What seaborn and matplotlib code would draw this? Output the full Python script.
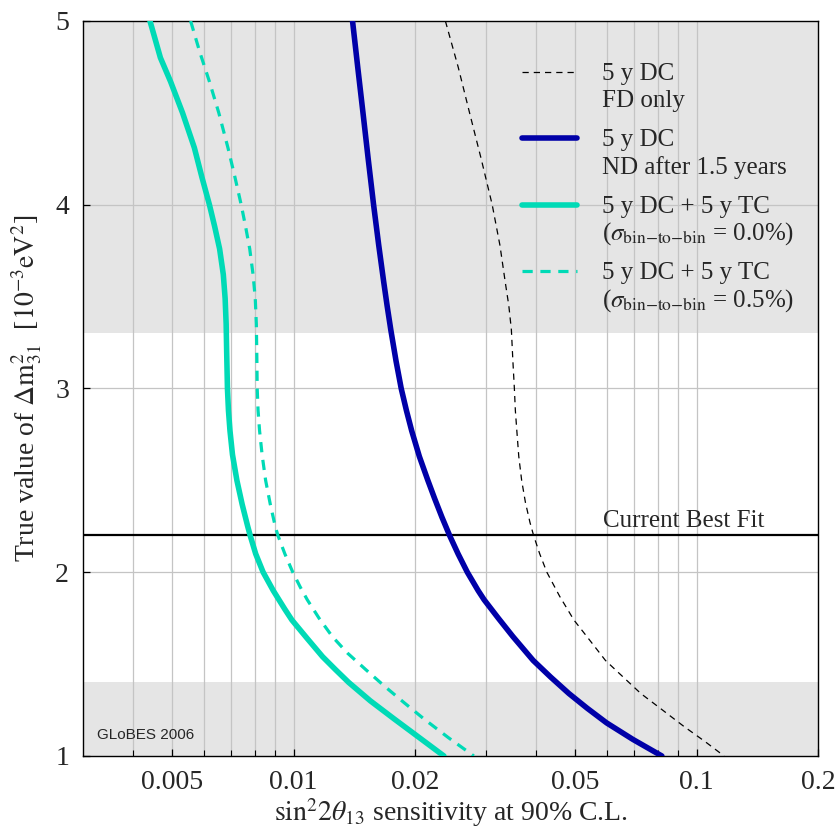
import matplotlib
matplotlib.use("Agg")
import matplotlib.pyplot as plt
from matplotlib.lines import Line2D
import seaborn as sns
import pandas as pd

# sensitivity curves (y = true dm31^2 in 1e-3 eV^2)
fd_y = [5.0, 4.75, 4.49, 4.25, 4.0, 3.78, 3.58, 3.45, 3.32, 3.15, 3.0, 2.88, 2.77, 2.63,
        2.5, 2.38, 2.27, 2.2, 2.1, 2.0, 1.87, 1.74, 1.63, 1.52, 1.43, 1.34, 1.25, 1.16,
        1.08, 1.0]
fd_x = [0.0238, 0.0256, 0.0274, 0.0292, 0.0311, 0.0325, 0.0335, 0.0342, 0.0347, 0.0350,
        0.0353, 0.0355, 0.0358, 0.0362, 0.0368, 0.0376, 0.0386, 0.0394, 0.0408, 0.0425,
        0.0457, 0.0496, 0.0543, 0.0594, 0.0657, 0.0727, 0.0823, 0.0931, 0.1047, 0.117]

nd_y = [5.0, 4.75, 4.49, 4.25, 4.0, 3.78, 3.58, 3.45, 3.32, 3.15, 3.0, 2.88, 2.77, 2.63,
        2.5, 2.4, 2.3, 2.2, 2.1, 2.0, 1.9, 1.85, 1.75, 1.65, 1.52, 1.43, 1.34, 1.26, 1.18,
        1.09, 1.0]
nd_x = [0.0140, 0.01442, 0.01488, 0.01531, 0.01579, 0.01626, 0.01673, 0.01706, 0.01742,
        0.01795, 0.01849, 0.01905, 0.01963, 0.02051, 0.02153, 0.02239, 0.02333, 0.02438,
        0.02559, 0.02698, 0.0287, 0.0297, 0.0322, 0.0350, 0.0393, 0.0434, 0.0482, 0.0535,
        0.0598, 0.0695, 0.0820]

tc0_y = [5.0, 4.8, 4.67, 4.5, 4.31, 4.15, 4.0, 3.88, 3.76, 3.62, 3.49, 3.35, 3.2, 3.0,
         2.88, 2.77, 2.64, 2.5, 2.37, 2.25, 2.2, 2.1, 2.0, 1.9, 1.8, 1.74, 1.64, 1.54, 1.47,
         1.40, 1.3, 1.2, 1.1, 1.0]
tc0_x = [0.0044, 0.00467, 0.00495, 0.00530, 0.00567, 0.00592, 0.00618, 0.00637, 0.00655,
         0.00669, 0.00676, 0.0068, 0.00682, 0.00685, 0.00689, 0.00695, 0.00705, 0.00723,
         0.00745, 0.00769, 0.0078, 0.00805, 0.0084, 0.0089, 0.0095, 0.0099, 0.0108,
         0.0118, 0.0127, 0.0137, 0.0155, 0.0178, 0.0205, 0.0236]

tc05_y = [5.0, 4.83, 4.67, 4.5, 4.31, 4.15, 4.0, 3.88, 3.76, 3.62, 3.49, 3.35, 3.2, 3.0,
          2.88, 2.77, 2.64, 2.5, 2.37, 2.25, 2.2, 2.1, 2.0, 1.92, 1.85, 1.75, 1.65, 1.56,
          1.47, 1.38, 1.29, 1.2, 1.1, 1.0]
tc05_x = [0.00555, 0.00585, 0.00618, 0.00652, 0.00687, 0.00715, 0.00741, 0.0076, 0.00778,
          0.00793, 0.00803, 0.00808, 0.0081, 0.00812, 0.00816, 0.00823, 0.00835, 0.00852,
          0.00875, 0.0090, 0.00914, 0.00951, 0.00995, 0.01038, 0.01081, 0.01156, 0.01247,
          0.0136, 0.0151, 0.0168, 0.0188, 0.0211, 0.0242, 0.0280]

best_fit = 2.2
bands = [(1.0, 1.4), (3.3, 5.0)]
xticks = [0.005, 0.01, 0.02, 0.05, 0.1, 0.2]
xtick_labels = ["0.005", "0.01", "0.02", "0.05", "0.1", "0.2"]
xgrid = [0.004, 0.005, 0.006, 0.007, 0.008, 0.009, 0.01, 0.02, 0.03, 0.04, 0.05,
         0.06, 0.07, 0.08, 0.09, 0.1]
yticks = [1, 2, 3, 4, 5]

legend_lines = [("5 y DC", "FD only"),
                ("5 y DC", "ND after 1.5 years"),
                ("5 y DC + 5 y TC", r"($\sigma_{\mathrm{bin{-}to{-}bin}}$ = 0.0%)"),
                ("5 y DC + 5 y TC", r"($\sigma_{\mathrm{bin{-}to{-}bin}}$ = 0.5%)")]

teal = "#00dab6"
navy = "#0000a8"

sns.set_theme(style="white")
plt.rcParams["font.family"] = ["Liberation Serif", "DejaVu Serif"]
plt.rcParams["mathtext.fontset"] = "stix"

fig = plt.figure(figsize=(8.38, 8.30), dpi=100)
ax = fig.add_axes([0.099, 0.0892, 0.877, 0.8855])
ax.set_xscale("log")

for lo, hi in bands:
    ax.axhspan(lo, hi, color="#e5e5e5", zorder=0, lw=0)
for gx in xgrid:
    ax.axvline(gx, color="#c4c4c4", lw=0.9, zorder=0.5)
for gy in yticks[1:-1]:
    ax.axhline(gy, color="#c4c4c4", lw=0.9, zorder=0.5)

styles = [
    (fd_x, fd_y, "black", 0.9, (0, (5, 4))),
    (nd_x, nd_y, navy, 4.0, "-"),
    (tc0_x, tc0_y, teal, 4.0, "-"),
    (tc05_x, tc05_y, teal, 2.3, (0, (3.2, 2.4))),
]
for xs, ys, col, lw, ls in styles:
    df = pd.DataFrame({"x": xs, "y": ys})
    sns.lineplot(data=df, x="x", y="y", sort=False, estimator=None, ax=ax,
                 color=col, lw=lw, linestyle=ls, zorder=3)

ax.axhline(best_fit, color="black", lw=1.6, zorder=2.5)
ax.text(0.0585, best_fit + 0.045, "Current Best Fit", fontsize=18, va="baseline", ha="left")

# legend, drawn by hand so the key sits on the first text line
for i, (l1, l2) in enumerate(legend_lines):
    yc = 0.931 - i * 0.0905
    col, lw, ls = styles[i][2], styles[i][3], styles[i][4]
    ax.add_line(Line2D([0.598, 0.672], [yc, yc], transform=ax.transAxes, color=col,
                       lw=lw, linestyle=ls, solid_capstyle="round", zorder=4))
    ax.text(0.706, yc - 0.011, l1, transform=ax.transAxes, fontsize=18, va="baseline")
    ax.text(0.706, yc - 0.048, l2, transform=ax.transAxes, fontsize=18, va="baseline")

ax.text(0.019, 0.023, "GLoBES 2006", transform=ax.transAxes, fontsize=11,
        family=["Liberation Sans", "DejaVu Sans"], va="baseline")

ax.set_xlim(0.003, 0.2)
ax.set_ylim(1, 5)
ax.set_xticks(xticks)
ax.set_xticklabels(xtick_labels)
ax.set_xticks(xgrid, minor=True)
ax.xaxis.set_minor_formatter(matplotlib.ticker.NullFormatter())
ax.set_yticks(yticks)
ax.tick_params(axis="both", which="major", direction="in", length=5, width=0.9,
               labelsize=20, pad=10, color="black", bottom=True, left=True)
ax.tick_params(axis="x", which="minor", direction="in", length=4, width=0.8,
               bottom=True, color="black")

ax.set_xlabel(r"$\sin^2\!2\theta_{13}$ sensitivity at 90% C.L.", fontsize=20, labelpad=1)
ax.set_ylabel(r"True value of $\Delta\mathrm{m}^2_{31}$  [$10^{-3}\mathrm{eV}^2$]",
              fontsize=20, labelpad=8)
for sp in ax.spines.values():
    sp.set_color("black")
    sp.set_linewidth(1.0)
ax.grid(False)

fig.savefig("out.png", dpi=100)
